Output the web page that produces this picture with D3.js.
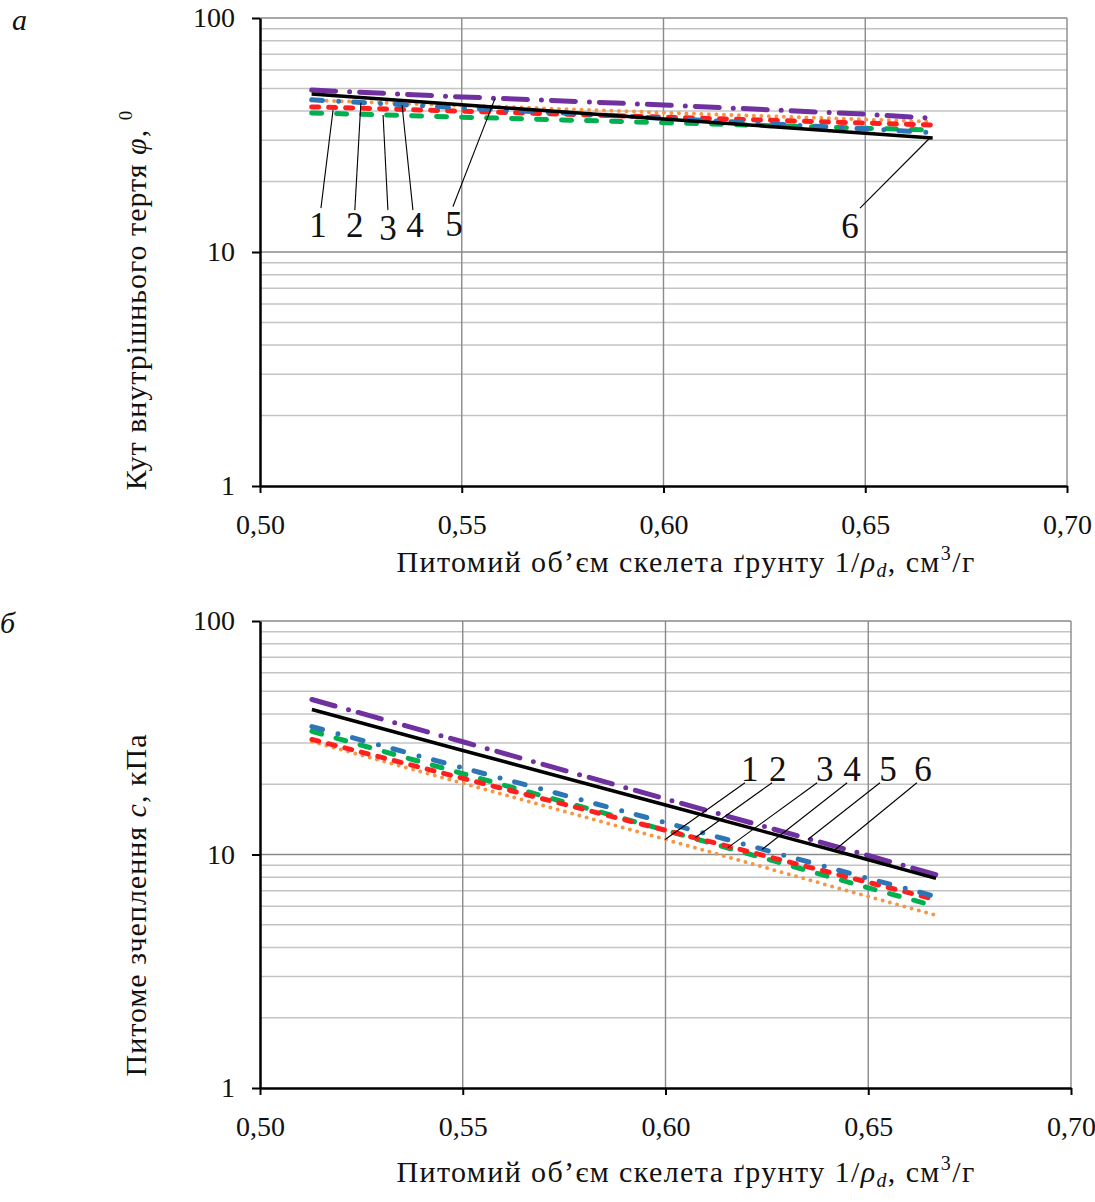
<!DOCTYPE html>
<html>
<head>
<meta charset="utf-8">
<script src="https://cdn.jsdelivr.net/npm/d3@7"></script>
<style>
  body { margin: 0; background: #fff; }
  svg { display: block; font-family: "Liberation Serif", "Times New Roman", serif; }
</style>
</head>
<body>
<div id="visual"></div>
<script>
// x values (specific volume of soil skeleton 1/rho_d)
const xVals = [0.5128, 0.55, 0.60, 0.65, 0.6667];
const xTicks = [0.50, 0.55, 0.60, 0.65, 0.70];
const yTicks = [1, 10, 100];
const seriesNames = ["1", "2", "3", "4", "5", "6"];

// chart a: angle of internal friction phi
const phi1 = [44.5, 42.3, 39.4, 36.8, 36.0];
const phi2 = [39.3, 37.7, 35.7, 33.8, 33.2];
const phi3 = [41.7, 40.0, 37.7, 35.6, 34.9];
const phi4 = [44.7, 41.3, 37.3, 33.6, 32.4];
const phi5 = [49.2, 46.0, 42.5, 38.8, 37.3];
const phi6 = [47.3, 42.6, 37.0, 32.2, 30.7];

// chart b: specific cohesion c
const c1 = [30.5, 20.2, 11.6, 6.6, 5.5];
const c2 = [33.7, 22.2, 12.7, 7.2, 6.0];
const c3 = [31.1, 21.2, 12.7, 7.6, 6.4];
const c4 = [35.3, 23.5, 13.7, 7.9, 6.6];
const c5 = [46.1, 30.4, 17.3, 9.9, 8.2];
const c6 = [41.8, 27.9, 16.3, 9.5, 7.9];

// leader labels: [text x, text y, line x1, y1, x2, y2] in data units
const labelsA = [
  [0.5144, 11.6, 0.5151, 15.4, 0.5181, 40.4],
  [0.5235, 11.6, 0.5235, 15.1, 0.5250, 43.4],
  [0.5317, 11.25, 0.5317, 15.1, 0.5305, 38.5],
  [0.5384, 11.6, 0.5379, 15.1, 0.5352, 42.5],
  [0.5481, 11.7, 0.5478, 15.6, 0.5582, 45.1],
  [0.6462, 11.5, 0.6487, 15.4, 0.6660, 30.7]
];
const labelsB = [
  [0.6208, 20.7, 0.6196, 20.3, 0.5999, 11.6],
  [0.6277, 20.7, 0.6263, 20.3, 0.6073, 11.8],
  [0.6393, 20.7, 0.6374, 20.3, 0.6154, 10.7],
  [0.6460, 20.7, 0.6448, 20.3, 0.6238, 10.5],
  [0.6549, 20.7, 0.6529, 20.3, 0.6351, 11.6],
  [0.6635, 20.7, 0.6620, 20.3, 0.6413, 10.3]
];

const STYLES = [
  {color: "#F79646", dash: "0 7.5", width: 4, cap: "round"},
  {color: "#00B050", dash: "10 15", width: 5, cap: "round"},
  {color: "#FF1F1F", dash: "7 10", width: 5, cap: "round"},
  {color: "#2E75B6", dash: "11 16 0 15", width: 5, cap: "round"},
  {color: "#7030A0", dash: "24 14 0 10", width: 5, cap: "round"},
  {color: "#000000", dash: null, width: 3.5, cap: "butt"}
];

const FONT = '"Liberation Serif", "Times New Roman", serif';

const svg = d3.select("#visual").append("svg")
  .attr("width", 1095)
  .attr("height", 1202);

function fmt(d) { return d.toFixed(2).replace(".", ","); }

function drawChart(box, series, labels) {
  const x = d3.scaleLinear().domain([0.5, 0.7]).range([box.left, box.right]);
  const y = d3.scaleLog().domain([1, 100]).range([box.bottom, box.top]);
  const g = svg.append("g");

  // horizontal grid (log minor + major)
  const hLines = [];
  [1, 10].forEach(function (dec) {
    for (let k = 1; k <= 9; k++) hLines.push(dec * k);
  });
  hLines.push(100);
  g.selectAll(".hgrid").data(hLines.filter(function (v) { return v > 1; }))
    .enter().append("line")
    .attr("x1", box.left).attr("x2", box.right)
    .attr("y1", function (d) { return y(d); })
    .attr("y2", function (d) { return y(d); })
    .style("stroke", function (d) { return (d === 10 || d === 100) ? "#8a8a8a" : "#c4c4c4"; })
    .style("stroke-width", 1.5);

  // vertical grid
  g.selectAll(".vgrid").data(xTicks.slice(1))
    .enter().append("line")
    .attr("x1", function (d) { return x(d); })
    .attr("x2", function (d) { return x(d); })
    .attr("y1", box.top).attr("y2", box.bottom)
    .style("stroke", "#8a8a8a")
    .style("stroke-width", 1.4);

  // series
  const line = d3.line()
    .x(function (d) { return x(d[0]); })
    .y(function (d) { return y(d[1]); });
  series.forEach(function (vals, i) {
    const st = STYLES[i];
    g.append("path")
      .datum(xVals.map(function (xv, j) { return [xv, vals[j]]; }))
      .attr("d", line)
      .style("fill", "none")
      .style("stroke", st.color)
      .style("stroke-width", st.width)
      .style("stroke-linecap", st.cap)
      .style("stroke-dasharray", st.dash);
  });

  // axes
  const xAxis = g.append("g")
    .attr("transform", "translate(0," + box.bottom + ")")
    .call(d3.axisBottom(x).tickValues(xTicks).tickFormat(fmt).tickSizeOuter(0).tickSizeInner(7).tickPadding(21));
  xAxis.attr("font-family", FONT);
  xAxis.select(".domain").style("stroke", "#000").style("stroke-width", 2.5);
  xAxis.selectAll(".tick line").style("stroke", "#000").style("stroke-width", 2);
  xAxis.selectAll("text").style("font-size", "28px").style("font-family", FONT).style("fill", "#111");

  const yAxis = g.append("g")
    .attr("transform", "translate(" + box.left + ",0)")
    .call(d3.axisLeft(y).tickValues(yTicks).tickFormat(d3.format("d")).tickSizeOuter(0).tickSizeInner(8).tickPadding(17));
  yAxis.attr("font-family", FONT);
  yAxis.select(".domain").style("stroke", "#000").style("stroke-width", 2.5);
  yAxis.selectAll(".tick line").style("stroke", "#000").style("stroke-width", 2);
  yAxis.selectAll("text").style("font-size", "28px").style("font-family", FONT).style("fill", "#111");

  // leader labels
  labels.forEach(function (l, i) {
    g.append("line")
      .attr("x1", x(l[2])).attr("y1", y(l[3]))
      .attr("x2", x(l[4])).attr("y2", y(l[5]))
      .style("stroke", "#000").style("stroke-width", 1.1);
    g.append("text")
      .attr("x", x(l[0])).attr("y", y(l[1]))
      .attr("text-anchor", "middle")
      .style("font-family", FONT)
      .style("font-size", "35px")
      .style("fill", "#111")
      .text(seriesNames[i]);
  });

  return {x: x, y: y};
}

function xTitle(cx, baseline) {
  const t = svg.append("text")
    .attr("x", cx).attr("y", baseline)
    .attr("text-anchor", "middle")
    .style("font-family", FONT)
    .style("font-size", "30px")
    .style("letter-spacing", "1.4px")
    .style("fill", "#111");
  t.append("tspan").text("Питомий об’єм скелета ґрунту 1/");
  t.append("tspan").style("font-style", "italic").text("ρ");
  t.append("tspan").style("font-style", "italic").style("font-size", "20px").attr("dy", 5).text("d");
  t.append("tspan").attr("dy", -5).text(", см");
  t.append("tspan").style("font-size", "20px").attr("dy", -12).text("3");
  t.append("tspan").attr("dy", 12).text("/г");
}

// chart a
const boxA = {left: 260, right: 1067, top: 18, bottom: 486};
drawChart(boxA, [phi1, phi2, phi3, phi4, phi5, phi6], labelsA);
xTitle(686, 572);

const yTitleA = svg.append("text")
  .attr("transform", "translate(146,300) rotate(-90)")
  .attr("text-anchor", "middle")
  .style("font-family", FONT)
  .style("font-size", "30px")
  .style("letter-spacing", "1px")
  .style("fill", "#111");
yTitleA.append("tspan").text("Кут внутрішнього тертя ");
yTitleA.append("tspan").style("font-style", "italic").text("φ");
yTitleA.append("tspan").text(", ");
yTitleA.append("tspan").style("font-size", "19px").attr("dy", -14).text("0");

svg.append("text").attr("x", 12).attr("y", 30)
  .style("font-family", FONT)
  .style("font-size", "30px").style("font-style", "italic").style("fill", "#111").text("а");

// chart b
const boxB = {left: 260, right: 1071, top: 621, bottom: 1088};
drawChart(boxB, [c1, c2, c3, c4, c5, c6], labelsB);
xTitle(686, 1182);

const yTitleB = svg.append("text")
  .attr("transform", "translate(146,905) rotate(-90)")
  .attr("text-anchor", "middle")
  .style("font-family", FONT)
  .style("font-size", "30px")
  .style("letter-spacing", "1px")
  .style("fill", "#111");
yTitleB.append("tspan").text("Питоме зчеплення ");
yTitleB.append("tspan").style("font-style", "italic").text("c");
yTitleB.append("tspan").text(", кПа");

svg.append("text").attr("x", 0).attr("y", 633)
  .style("font-family", FONT)
  .style("font-size", "30px").style("font-style", "italic").style("fill", "#111").text("б");
</script>
</body>
</html>
